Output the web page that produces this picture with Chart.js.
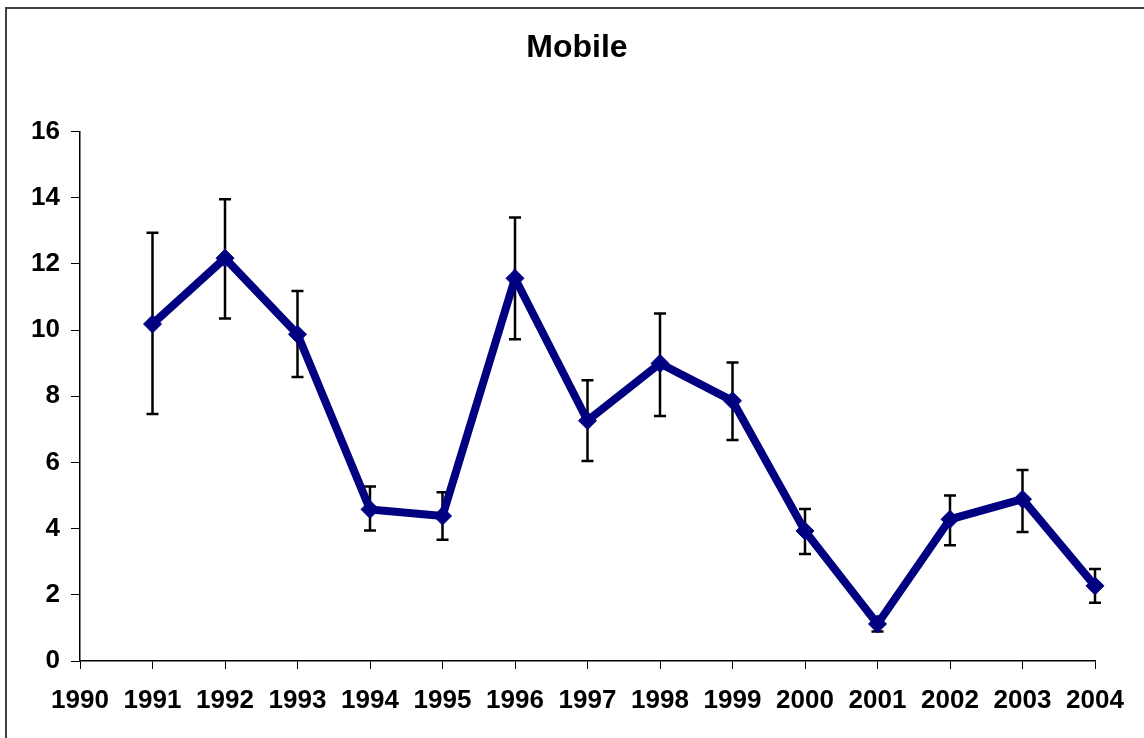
<!DOCTYPE html>
<html>
<head>
<meta charset="utf-8">
<script src="https://cdn.jsdelivr.net/npm/chart.js@4"></script>
<style>
  html, body { margin: 0; padding: 0; background: #fff; }
  #wrap { width: 1144px; height: 738px; position: relative; }
</style>
</head>
<body>
<div id="wrap"><canvas id="myChart" width="1144" height="738"></canvas></div>
<script>
const years = ['1990', '1991', '1992', '1993', '1994', '1995', '1996', '1997', '1998', '1999', '2000', '2001', '2002', '2003', '2004'];
const mobile = [null, 10.18, 12.17, 9.87, 4.58, 4.38, 11.56, 7.26, 8.99, 7.86, 3.93, 1.12, 4.28, 4.89, 2.27];
const errHigh = [null, 12.94, 13.95, 11.18, 5.27, 5.10, 13.40, 8.48, 10.50, 9.02, 4.59, 1.30, 5.00, 5.77, 2.78];
const errLow = [null, 7.46, 10.35, 8.58, 3.94, 3.66, 9.72, 6.04, 7.40, 6.68, 3.23, 0.89, 3.50, 3.90, 1.76];

// frame (top + left only, like the original export)
const framePlugin = {
  id: 'frame',
  beforeDraw(chart) {
    const ctx = chart.ctx;
    ctx.save();
    ctx.strokeStyle = '#404040';
    ctx.lineWidth = 2;
    ctx.beginPath();
    ctx.moveTo(6, 738);
    ctx.lineTo(6, 8);
    ctx.lineTo(1144, 8);
    ctx.stroke();
    ctx.restore();
  }
};

// error bars under the line
const errorBars = {
  id: 'errorBars',
  beforeDatasetsDraw(chart) {
    const ctx = chart.ctx;
    const x = chart.scales.x, y = chart.scales.y;
    ctx.save();
    ctx.strokeStyle = '#000';
    ctx.lineWidth = 2.5;
    years.forEach((yr, i) => {
      if (errHigh[i] == null) return;
      const px = x.getPixelForValue(i);
      const top = y.getPixelForValue(errHigh[i]);
      const bot = y.getPixelForValue(errLow[i]);
      ctx.beginPath();
      ctx.moveTo(px, top); ctx.lineTo(px, bot);
      ctx.moveTo(px - 6, top); ctx.lineTo(px + 6, top);
      ctx.moveTo(px - 6, bot); ctx.lineTo(px + 6, bot);
      ctx.stroke();
    });
    ctx.restore();
  }
};

const tickFont = { family: 'Liberation Sans, Arial', size: 26, weight: 'bold' };

const ctx = document.getElementById('myChart').getContext('2d');
new Chart(ctx, {
  type: 'line',
  data: {
    labels: years,
    datasets: [{
      label: 'Mobile',
      data: mobile,
      borderColor: '#000080',
      backgroundColor: '#000080',
      borderWidth: 8,
      pointStyle: 'rectRot',
      pointRadius: 9,
      pointBackgroundColor: '#000080',
      pointBorderColor: '#000080',
      pointBorderWidth: 1,
      tension: 0
    }]
  },
  options: {
    responsive: false,
    animation: false,
    layout: { padding: { left: 10, right: 0, top: 0, bottom: 0 } },
    plugins: {
      legend: { display: false },
      tooltip: { enabled: false },
      title: {
        display: true,
        text: 'Mobile',
        color: '#000',
        font: { family: 'Liberation Sans, Arial', size: 32, weight: 'bold' },
        padding: { top: 29, bottom: 64 }
      }
    },
    scales: {
      x: {
        offset: false,
        grid: { drawOnChartArea: false, tickLength: 8, color: '#000', tickWidth: 1 },
        border: { color: '#000', width: 1.5 },
        ticks: {
          color: '#000',
          padding: 16,
          maxRotation: 0,
          autoSkip: false,
          font: tickFont
        },
        afterFit(s) { s.height = 77; }
      },
      y: {
        min: 0,
        max: 16,
        grid: { drawOnChartArea: false, tickLength: 9, color: '#000', tickWidth: 1 },
        border: { color: '#000', width: 1.5 },
        ticks: {
          stepSize: 2,
          color: '#000',
          padding: 11,
          font: tickFont
        },
        afterFit(s) { s.width = 70; }
      },
      // empty right-hand spacer so the plot ends where the original does
      right: {
        position: 'right',
        min: 0,
        max: 16,
        grid: { display: false },
        border: { display: false },
        ticks: { display: false },
        afterFit(s) { s.width = 49; }
      }
    }
  },
  plugins: [framePlugin, errorBars]
});
</script>
</body>
</html>
